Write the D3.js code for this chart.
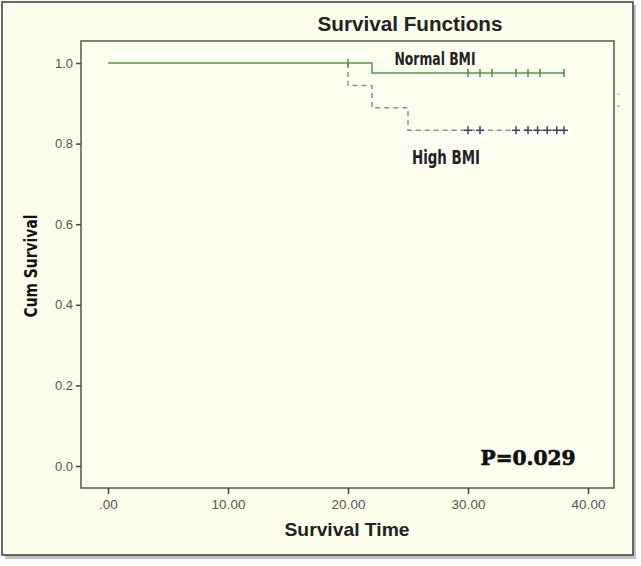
<!DOCTYPE html>
<html><head><meta charset="utf-8">
<script src="https://cdn.jsdelivr.net/npm/d3@7"></script>
<style>
html,body{margin:0;padding:0;background:#fff;}
svg{display:block;}
</style></head>
<body>
<svg id="chart" width="641" height="566"></svg>
<script>
// ---- data ----
const xTicks = [0, 10, 20, 30, 40];
const xTickLabels = [".00", "10.00", "20.00", "30.00", "40.00"];
const yTicks = [0, 0.2, 0.4, 0.6, 0.8, 1.0];
const yTickLabels = ["0.0", "0.2", "0.4", "0.6", "0.8", "1.0"];

const normalTimes = [0, 22, 38];
const normalSurv = [1.0, 0.975, 0.975];
const normalCensorTimes = [20, 30, 31, 32, 34, 35, 36, 38];
const normalCensorSurv = [1.0, 0.975, 0.975, 0.975, 0.975, 0.975, 0.975, 0.975];

const highTimes = [20, 22, 25, 38];
const highSurv = [0.944, 0.889, 0.833, 0.833];
const highCensorTimes = [30, 31, 34, 35, 35.8, 36.6, 37.4, 38];
const highCensorSurv = [0.833, 0.833, 0.833, 0.833, 0.833, 0.833, 0.833, 0.833];

const seriesNames = ["Normal BMI", "High BMI"];
const pValue = "P=0.029";

// ---- layout ----
const svg = d3.select("#chart");
const plot = {left: 81, right: 614, top: 41, bottom: 488};
const x = d3.scaleLinear().domain([0, 40]).range([108, 588]);
const y = d3.scaleLinear().domain([0, 1]).range([466, 63]);

// outer panel with shadow
svg.append("rect").attr("x", 5).attr("y", 5).attr("width", 631).attr("height", 554).attr("fill", "#9a9a9a").attr("opacity", 0.6);
svg.append("rect").attr("x", 2).attr("y", 2).attr("width", 631).attr("height", 553)
  .attr("fill", "#fdfdec").attr("stroke", "#3a3a3a").attr("stroke-width", 1.5);

// plot frame
svg.append("rect").attr("x", plot.left).attr("y", plot.top)
  .attr("width", plot.right - plot.left).attr("height", plot.bottom - plot.top)
  .attr("fill", "#fefef0").attr("stroke", "#555").attr("stroke-width", 1.5);

// axes
const yAxis = d3.axisLeft(y).tickValues(yTicks).tickFormat((d, i) => yTickLabels[i]).tickSize(5).tickPadding(3);
const gy = svg.append("g").attr("transform", `translate(${plot.left},0)`).call(yAxis);
gy.select(".domain").remove();
gy.selectAll("line").attr("stroke", "#444").attr("stroke-width", 1.5);
gy.selectAll("text").attr("fill", "#555").style("font-family", "Arial, 'Liberation Sans', sans-serif").style("font-size", "13px");

const xAxis = d3.axisBottom(x).tickValues(xTicks).tickFormat((d, i) => xTickLabels[i]).tickSize(6).tickPadding(5);
const gx = svg.append("g").attr("transform", `translate(0,${plot.bottom})`).call(xAxis);
gx.select(".domain").remove();
gx.selectAll("line").attr("stroke", "#444").attr("stroke-width", 1.5);
gx.selectAll("text").attr("fill", "#555").style("font-family", "Arial, 'Liberation Sans', sans-serif").style("font-size", "13.5px");

// step lines
const stepLine = d3.line().x(d => x(d[0])).y(d => y(d[1])).curve(d3.curveStepAfter);
const normalPts = normalTimes.map((t, i) => [t, normalSurv[i]]);
const highPts = [[20, 1.0]].concat(highTimes.map((t, i) => [t, highSurv[i]]));

svg.append("path").datum(normalPts).attr("d", stepLine)
  .attr("fill", "none").attr("stroke", "#4f9a4f").attr("stroke-width", 1.5);
svg.append("path").datum(highPts).attr("d", stepLine)
  .attr("fill", "none").attr("stroke", "#8a8e9a").attr("stroke-width", 1.5).attr("stroke-dasharray", "5,4");

// censor marks
function censors(times, surv, color) {
  const g = svg.append("g");
  times.forEach((t, i) => {
    g.append("line").attr("x1", x(t)).attr("x2", x(t)).attr("y1", y(surv[i]) - 4).attr("y2", y(surv[i]) + 4)
      .attr("stroke", color).attr("stroke-width", 1.5);
  });
}
censors(normalCensorTimes, normalCensorSurv, "#3e8f3e");
highCensorTimes.forEach((t, i) => {
  svg.append("line").attr("x1", x(t) - 4).attr("x2", x(t) + 4).attr("y1", y(highCensorSurv[i])).attr("y2", y(highCensorSurv[i]))
    .attr("stroke", "#3a4468").attr("stroke-width", 1.5);
});
censors(highCensorTimes, highCensorSurv, "#3a4468");

// small marks at right edge
svg.append("line").attr("x1", 617).attr("x2", 620).attr("y1", 94).attr("y2", 94).attr("stroke", "#bbb").attr("stroke-width", 1);
svg.append("line").attr("x1", 617).attr("x2", 620).attr("y1", 106).attr("y2", 106).attr("stroke", "#999").attr("stroke-width", 1);

// texts
svg.append("text").attr("x", 410).attr("y", 31).attr("text-anchor", "middle")
  .style("font-family", "Arial, 'Liberation Sans', sans-serif").style("font-weight", "bold").style("font-size", "20px")
  .attr("fill", "#222").attr("textLength", 185).attr("lengthAdjust", "spacingAndGlyphs").text("Survival Functions");

svg.append("text").attr("x", 347).attr("y", 536).attr("text-anchor", "middle")
  .style("font-family", "Arial, 'Liberation Sans', sans-serif").style("font-weight", "bold").style("font-size", "18.5px")
  .attr("fill", "#222").attr("textLength", 125).attr("lengthAdjust", "spacingAndGlyphs").text("Survival Time");

svg.append("text").attr("transform", "translate(37,266) rotate(-90)").attr("text-anchor", "middle")
  .style("font-family", "'DejaVu Sans Condensed', Arial, sans-serif").style("font-weight", "bold").style("font-size", "18px")
  .attr("fill", "#111").attr("textLength", 103).attr("lengthAdjust", "spacingAndGlyphs").text("Cum Survival");

svg.append("text").attr("x", 435).attr("y", 65).attr("text-anchor", "middle")
  .style("font-family", "'DejaVu Sans Condensed', Arial, sans-serif").style("font-weight", "bold").style("font-size", "17px")
  .attr("fill", "#222").attr("textLength", 81).attr("lengthAdjust", "spacingAndGlyphs").text(seriesNames[0]);

svg.append("text").attr("x", 446).attr("y", 164).attr("text-anchor", "middle")
  .style("font-family", "'DejaVu Sans Condensed', Arial, sans-serif").style("font-weight", "bold").style("font-size", "19px")
  .attr("fill", "#222").attr("textLength", 68).attr("lengthAdjust", "spacingAndGlyphs").text(seriesNames[1]);

svg.append("text").attr("x", 528).attr("y", 465).attr("text-anchor", "middle")
  .style("font-family", "'DejaVu Serif', 'Liberation Serif', serif").style("font-weight", "bold").style("font-size", "21px")
  .attr("fill", "#111").attr("stroke", "#111").attr("stroke-width", 0.7)
  .attr("textLength", 95).attr("lengthAdjust", "spacingAndGlyphs").text(pValue);
</script>
</body></html>
